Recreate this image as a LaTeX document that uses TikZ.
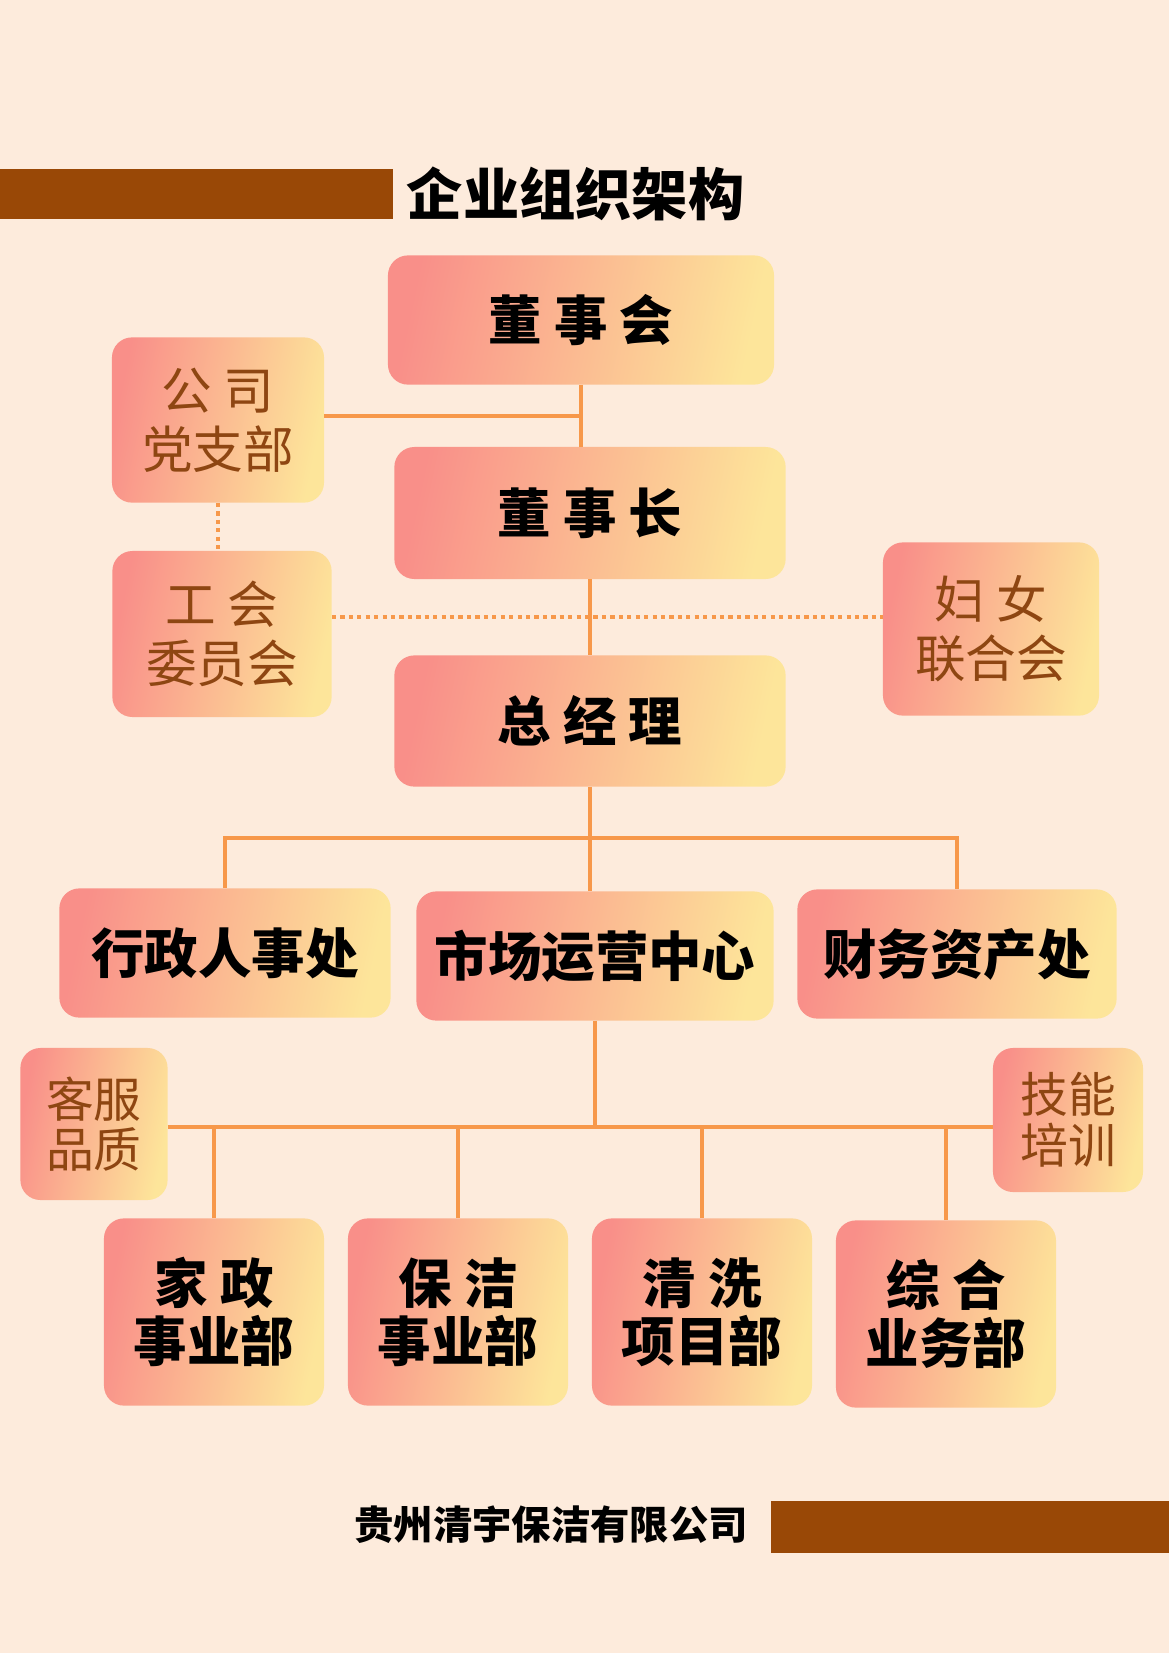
\documentclass[tikz,border=0pt]{standalone}
\usepackage{fontspec}
\setmainfont{Noto Sans CJK SC}[BoldFont={Noto Sans CJK SC Black}]
\usepackage{tikz}

\definecolor{bgcolor}{HTML}{FDEBDC}
\definecolor{boxpink}{HTML}{F98F89}
\definecolor{boxyellow}{HTML}{FDE59A}
\definecolor{barbrown}{HTML}{994806}
\definecolor{txtbrown}{HTML}{8E4612}
\definecolor{lineorange}{HTML}{F7984A}

\tikzset{
  box/.style={rounded corners=0.5cm, left color=boxpink, right color=boxyellow,
    shading angle=78, inner sep=0pt, align=center,
    font=\bfseries\fontsize{38pt}{41pt}\selectfont},
  side/.style={box, text=txtbrown, font=\fontsize{36pt}{42pt}\selectfont},
  link/.style={draw=lineorange, line width=3.4pt},
  dotline/.style={link, line width=3pt, dash pattern=on 3pt off 3pt},
}

\begin{document}
\begin{tikzpicture}[x=0.025cm, y=-0.025cm]
  \fill[bgcolor] (0,0) rectangle (1169,1653);
  \useasboundingbox (0,0) rectangle (1169,1653);

  \fill[barbrown] (0,169) rectangle (393,219);
  \node[anchor=west, font=\bfseries\fontsize{40pt}{44pt}\selectfont] (title) at (402,194) {企业组织架构};

  \node[box, minimum width=9.65cm, minimum height=3.23cm] (dsh) at (581,320) {董 事 会};
  \node[box, minimum width=9.78cm, minimum height=3.3cm] (dsz) at (590,513) {董 事 长};
  \node[box, minimum width=9.78cm, minimum height=3.28cm] (zjl) at (590,721) {总 经 理};
  \node[side, minimum width=5.3cm, minimum height=4.13cm] (dzb) at (218,420) {公 司\\党支部};
  \node[side, minimum width=5.48cm, minimum height=4.15cm] (gh) at (222,634) {工 会\\委员会};
  \node[side, minimum width=5.4cm, minimum height=4.33cm] (fl) at (991,629) {妇 女\\联合会};

  \node[box, minimum width=8.28cm, minimum height=3.23cm] (xz) at (225,953) {行政人事处};
  \node[box, minimum width=8.93cm, minimum height=3.23cm] (sc) at (595,956) {市场运营中心};
  \node[box, minimum width=7.98cm, minimum height=3.23cm] (cw) at (957,954) {财务资产处};

  \node[side, minimum width=3.68cm, minimum height=3.8cm, font=\fontsize{34pt}{36pt}\selectfont] (kf) at (94,1124) {客服\\品质};
  \node[side, minimum width=3.75cm, minimum height=3.6cm, font=\fontsize{34pt}{36pt}\selectfont] (jn) at (1068,1120) {技能\\培训};

  \node[box, minimum width=5.5cm, minimum height=4.68cm] (jz) at (214,1312) {家 政\\事业部};
  \node[box, minimum width=5.5cm, minimum height=4.68cm] (bj) at (458,1312) {保 洁\\事业部};
  \node[box, minimum width=5.5cm, minimum height=4.68cm] (qx) at (702,1312) {清 洗\\项目部};
  \node[box, minimum width=5.5cm, minimum height=4.68cm] (zh) at (946,1314) {综 合\\业务部};

  \fill[barbrown] (771,1501) rectangle (1169,1553);
  \node[anchor=east, font=\bfseries\fontsize{28pt}{32pt}\selectfont] (company) at (753,1525) {贵州清宇保洁有限公司};

  \coordinate (j1) at (0,416);
  \coordinate (j2) at (0,617);
  \coordinate (j3) at (0,838);
  \coordinate (j4) at (0,1127);

  \draw[link] (dsh.south) -- (dsh.south |- dsz.north);
  \draw[link] (dzb.east |- j1) -- (dsh.south |- j1);
  \draw[dotline] (dzb.south) -- (dzb.south |- gh.north);
  \draw[dotline] (gh.east |- j2) -- (fl.west |- j2);
  \draw[link] (dsz.south) -- (zjl.north);

  \draw[link] (zjl.south) -- (zjl.south |- sc.north);
  \draw[link] (xz.north) -- (xz.north |- j3) -- (cw.north |- j3) -- (cw.north);

  \draw[link] (sc.south) -- (sc.south |- j4);
  \draw[link] (kf.east |- j4) -- (jn.west |- j4);
  \draw[link] (jz.north) -- (jz.north |- j4);
  \draw[link] (bj.north) -- (bj.north |- j4);
  \draw[link] (qx.north) -- (qx.north |- j4);
  \draw[link] (zh.north) -- (zh.north |- j4);
\end{tikzpicture}
\end{document}
